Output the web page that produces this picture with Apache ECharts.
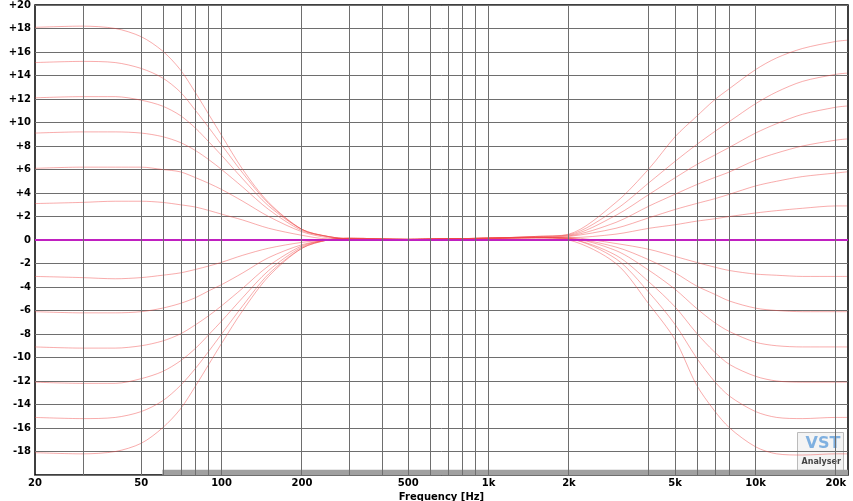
<!DOCTYPE html>
<html><head><meta charset="utf-8">
<script src="https://cdn.jsdelivr.net/npm/echarts@6/dist/echarts.min.js"></script>
<style>html,body{margin:0;padding:0;background:#fff}#c{width:853px;height:501px}</style>
</head><body><div id="c"></div>
<script>
const freqs = [20,30,40,50,60,70,80,90,100,120,150,200,250,300,500,700,1000,1500,2000,3000,4000,5000,6000,7000,8000,10000,12000,15000,20000,22000];
const curveP18 = [18.1,18.2,18.0,17.3,16.1,14.5,12.5,10.6,8.9,6.0,3.2,0.9,0.3,0.1,0.05,0.1,0.15,0.3,0.5,3.2,6.1,8.8,10.5,11.9,12.9,14.5,15.5,16.3,16.9,17.0];
const curveP15 = [15.1,15.2,15.1,14.6,13.8,12.6,11.0,9.5,8.1,5.7,3.1,0.9,0.3,0.1,0.05,0.1,0.15,0.3,0.45,2.6,4.9,6.7,8.1,9.2,10.1,11.6,12.6,13.5,14.1,14.2];
const curveP12 = [12.1,12.2,12.2,11.9,11.4,10.6,9.5,8.3,7.2,5.2,2.9,0.9,0.3,0.1,0.05,0.1,0.15,0.3,0.4,2.1,3.9,5.3,6.4,7.2,7.9,9.1,9.9,10.7,11.3,11.4];
const curveP9  = [9.1,9.2,9.2,9.1,8.8,8.3,7.6,6.8,6.0,4.5,2.6,0.8,0.3,0.1,0.05,0.1,0.15,0.25,0.35,1.5,2.9,3.9,4.7,5.3,5.8,6.8,7.4,8.0,8.5,8.6];
const curveP6  = [6.1,6.2,6.2,6.2,6.0,5.8,5.3,4.8,4.3,3.3,2.0,0.7,0.2,0.1,0.05,0.1,0.15,0.2,0.3,1.0,1.9,2.6,3.1,3.5,3.9,4.6,5.0,5.4,5.7,5.8];
const curveP3  = [3.1,3.2,3.3,3.3,3.2,3.0,2.8,2.5,2.2,1.7,1.0,0.4,0.1,0.1,0.05,0.1,0.15,0.2,0.2,0.5,1.0,1.3,1.6,1.8,2.0,2.3,2.5,2.7,2.9,2.9];
const curveM3  = [-3.1,-3.2,-3.3,-3.2,-3.0,-2.8,-2.5,-2.2,-1.9,-1.3,-0.7,-0.2,0.0,0.1,0.05,0.1,0.15,0.2,0.2,-0.3,-0.8,-1.4,-1.9,-2.3,-2.6,-2.9,-3.0,-3.1,-3.1,-3.1];
const curveM6  = [-6.1,-6.2,-6.2,-6.1,-5.8,-5.4,-4.9,-4.3,-3.8,-2.8,-1.5,-0.4,0.0,0.1,0.05,0.1,0.15,0.2,0.15,-0.6,-1.7,-2.8,-3.9,-4.6,-5.2,-5.8,-6.0,-6.1,-6.1,-6.1];
const curveM9  = [-9.1,-9.2,-9.2,-9.0,-8.6,-8.0,-7.2,-6.4,-5.6,-4.1,-2.2,-0.5,0.0,0.15,0.05,0.1,0.15,0.2,0.15,-0.9,-2.6,-4.2,-5.8,-7.0,-7.8,-8.7,-9.0,-9.1,-9.1,-9.1];
const curveM12 = [-12.1,-12.2,-12.2,-11.8,-11.2,-10.3,-9.2,-8.0,-6.9,-4.9,-2.6,-0.6,0.0,0.15,0.05,0.1,0.15,0.2,0.1,-1.3,-3.6,-5.7,-7.9,-9.5,-10.6,-11.6,-12.0,-12.1,-12.1,-12.1];
const curveM15 = [-15.1,-15.2,-15.1,-14.6,-13.7,-12.4,-10.9,-9.4,-8.0,-5.6,-2.9,-0.7,0.0,0.15,0.05,0.1,0.15,0.2,0.1,-1.6,-4.5,-7.2,-10.0,-12.0,-13.3,-14.6,-15.1,-15.2,-15.1,-15.1];
const curveM18 = [-18.1,-18.2,-18.0,-17.3,-16.0,-14.4,-12.4,-10.5,-8.8,-6.0,-3.1,-0.7,0.0,0.15,0.05,0.1,0.15,0.2,0.0,-2.0,-5.5,-8.5,-12.3,-14.5,-16.0,-17.6,-18.2,-18.3,-18.2,-18.2];
const gridFreqs = [30,50,60,70,80,90,100,200,300,400,500,600,700,800,900,1000,2000,4000,5000,6000,7000,8000,10000,20000];
const xTickFreqs = [20,50,100,200,500,1000,2000,5000,10000,20000];
const xTickLabels = ['20','50','100','200','500','1k','2k','5k','10k','20k'];
const yTicks = [20,18,16,14,12,10,8,6,4,2,0,-2,-4,-6,-8,-10,-12,-14,-16,-18];

const curves = [curveP18,curveP15,curveP12,curveP9,curveP6,curveP3,curveM3,curveM6,curveM9,curveM12,curveM15,curveM18];
const L = Math.log10;
const series = curves.map(c => ({
  type:'line', data: freqs.map((f,i)=>[L(f), c[i]]), smooth:0.3, showSymbol:false, silent:true,
  lineStyle:{color:'rgba(240,70,70,0.45)', width:1}
}));
series.unshift({
  type:'line', data:[], silent:true,
  markLine:{symbol:'none', silent:true, label:{show:false},
    lineStyle:{color:'#6e6e6e', width:1, type:'solid'},
    data: gridFreqs.map(f=>({xAxis:L(f)}))},
  markArea:{silent:true, itemStyle:{color:'#a0a0a0'},
    data:[[{xAxis:L(60), yAxis:-20},{xAxis:L(22200), yAxis:-19.55}]]}
});
series.push({
  type:'line', data:[[L(20),0],[L(22200),0]], showSymbol:false, silent:true,
  lineStyle:{color:'#c020c0', width:2}
});
const chart = echarts.init(document.getElementById('c'));
chart.setOption({
  animation:false, backgroundColor:'#fff',
  grid:{left:35, right:5, top:5, bottom:26, containLabel:false, outerBoundsMode:'none', show:true, borderColor:'#000', borderWidth:1.5},
  xAxis:{type:'value', min:L(20), max:L(22200),
    name:'Frequency [Hz]', nameLocation:'middle', nameGap:14,
    nameTextStyle:{fontFamily:'DejaVu Sans', fontWeight:'bold', fontSize:10, color:'#000', verticalAlign:'middle'},
    axisLine:{show:false}, splitLine:{show:false},
    axisTick:{show:false},
    axisLabel:{customValues: xTickFreqs.map(L), fontFamily:'DejaVu Sans', fontWeight:'bold', fontSize:10, color:'#000', margin:3,
      formatter:v=>{const i=xTickFreqs.findIndex(f=>Math.abs(L(f)-v)<1e-6);return i>=0?xTickLabels[i]:'';}}
  },
  yAxis:{type:'value', min:-20, max:20, interval:2,
    name:'Magnitude [dB]', nameLocation:'middle', nameGap:24, nameRotate:90,
    nameTextStyle:{fontFamily:'DejaVu Sans', fontWeight:'bold', fontSize:10, color:'#000'},
    axisLine:{show:false}, axisTick:{show:false},
    splitLine:{show:true, lineStyle:{color:'#6e6e6e', width:1}},
    axisLabel:{fontFamily:'DejaVu Sans', fontWeight:'bold', fontSize:10, color:'#000', margin:4,
      formatter:v=> yTicks.includes(v) ? (v>0?'+'+v:String(v)) : ''}
  },
  graphic:[{type:'group', right:9, bottom:30, children:[
    {type:'rect', shape:{x:0,y:0,width:46,height:38}, style:{fill:'#f4f4f4', stroke:'#bbb'}},
    {type:'text', style:{x:8,y:3,text:'VST', font:'bold 16px DejaVu Sans', fill:'#7fb0e0'}},
    {type:'text', style:{x:4,y:25,text:'Analyser', font:'bold 8px DejaVu Sans', fill:'#444'}}
  ]}],
  series
});
</script></body></html>
